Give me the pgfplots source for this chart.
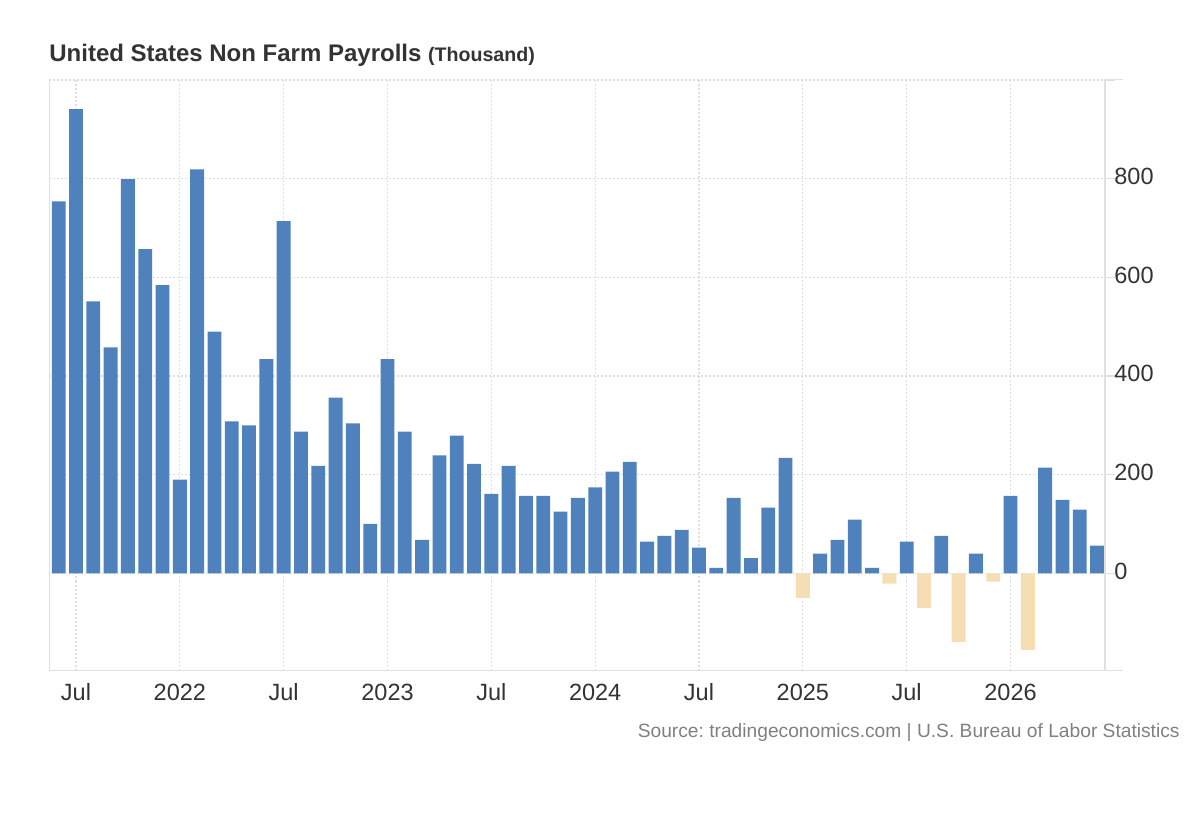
\documentclass[border=0pt]{standalone}
\usepackage{fontspec}
\setmainfont{Liberation Sans}
\usepackage{pgfplots}
\pgfplotsset{compat=1.18}
\definecolor{barblue}{HTML}{4F81BD}
\definecolor{barneg}{HTML}{F5DEB3}
\definecolor{gridc}{HTML}{DEDEDE}
\definecolor{axc}{HTML}{E0E0E0}
\definecolor{txt}{HTML}{333333}
\definecolor{src}{HTML}{808080}
\begin{document}
\frenchspacing
\begin{tikzpicture}
\useasboundingbox (0,0) rectangle (600pt,410pt);
\begin{axis}[
 at={(24.5pt,74.75pt)}, anchor=south west,
 scale only axis, width=528pt, height=295.75pt,
 xmin=-0.56, xmax=60.46, ymin=-197, ymax=1002,
 axis line style={draw=none},
 xtick={1,7,13,19,25,31,37,43,49,55},
 xticklabels={Jul,2022,Jul,2023,Jul,2024,Jul,2025,Jul,2026},
 ytick={0,200,400,600,800,1000},
 yticklabels={0,200,400,600,800,},
 ytick pos=right, yticklabel pos=right,
 xtick style={draw=none},
 ytick style={color=axc, line width=0.6pt},
 tick align=outside, major tick length=5pt,
 grid=major,
 major grid style={draw=gridc, line width=0.6pt, dash pattern=on 1pt off 1pt},
 ticklabel style={font=\fontsize{11.75}{14}\selectfont, text=txt, inner sep=0pt},
 yticklabel style={anchor=west, xshift=-0.5pt, yshift=1.2pt},
 xticklabel style={anchor=base, yshift=-10pt},
 /pgf/number format/assume math mode=true,
 ybar, bar width=0.8,
 clip=false,
]
\addplot[fill=barblue, draw=none, bar shift=0pt] coordinates {
(0,754) (1,941) (2,551) (3,458) (4,799) (5,657) (6,584) (7,190) (8,819) (9,490)
(10,308) (11,300) (12,434) (13,714) (14,287) (15,218) (16,356) (17,304) (18,100) (19,434)
(20,287) (21,68) (22,239) (23,279) (24,222) (25,161) (26,218) (27,157) (28,157) (29,125)
(30,153) (31,174) (32,206) (33,226) (34,64) (35,76) (36,88) (37,52) (38,11) (39,153)
(40,31) (41,133) (42,234) (44,40) (45,68) (46,109) (47,11) (49,64)
(51,76) (53,40) (55,157) (57,214) (58,149) (59,129) (60,56)
};
\addplot[fill=barneg, draw=none, bar shift=0pt] coordinates {
(43,-50) (48,-21) (50,-70) (52,-139) (54,-17) (56,-155)
};
\end{axis}
\draw[axc, line width=0.7pt] (24.65pt,74.75pt) -- (24.65pt,370.35pt);
\draw[axc, line width=0.7pt] (552.5pt,74.75pt) -- (552.5pt,370.35pt);
\draw[axc, line width=0.7pt] (24.3pt,74.75pt) -- (561.5pt,74.75pt);
\draw[axc, line width=0.6pt] (552.5pt,370.35pt) -- (561.5pt,370.35pt);
\node[anchor=base west, text=txt, inner sep=0pt] at (24.5pt,379.15pt) {\fontsize{12}{14}\selectfont\bfseries United States Non Farm Payrolls \fontsize{9.8}{12}\selectfont(Thousand)};
\node[anchor=base east, text=src, inner sep=0pt] at (590pt,41.35pt) {\fontsize{9.6}{12}\selectfont Source: tradingeconomics.com | U.S. Bureau of Labor Statistics};
\end{tikzpicture}
\end{document}
